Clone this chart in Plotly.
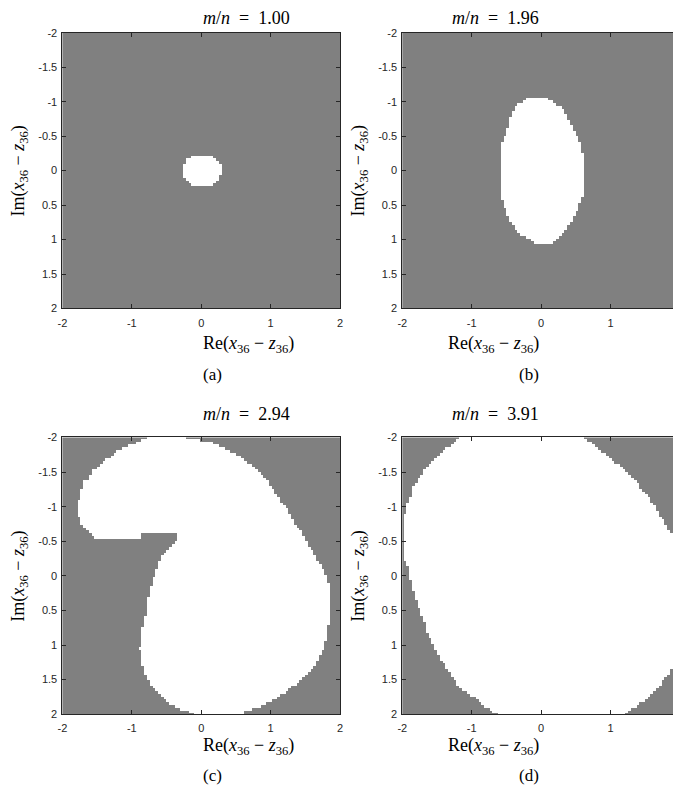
import numpy as np
import plotly.graph_objects as go

# ---------------- data ----------------
ratios = ["1.00", "1.96", "2.94", "3.91"]
captions = ["(a)", "(b)", "(c)", "(d)"]
x_ticks = [-2, -1, 0, 1, 2]
y_ticks = [-2, -1.5, -1, -0.5, 0, 0.5, 1, 1.5, 2]
x_tick_text = ["-2", "-1", "0", "1", "2"]
y_tick_text = ["-2", "-1.5", "-1", "-0.5", "0", "0.5", "1", "1.5", "2"]

# grid of the sampled plane (cell centres)
grid_re = np.linspace(-2, 2, 101)
grid_im = np.linspace(-2, 2, 101)

# boundaries of the white (convergent) region
region_a_re = [-0.12, 0.17, 0.24, 0.29, 0.29, 0.24, 0.17, -0.13, -0.21, -0.27, -0.27, -0.21]
region_a_im = [-0.20, -0.20, -0.16, -0.11, 0.05, 0.13, 0.21, 0.21, 0.14, 0.08, -0.07, -0.16]

region_b_re = [-0.178, 0.101, 0.183, 0.255, 0.328, 0.376, 0.424, 0.472, 0.520, 0.569, 0.593, 0.617,
               0.617, 0.583, 0.545, 0.506, 0.448, 0.400, 0.342, 0.255, 0.159,
               -0.082, -0.178, -0.251, -0.323, -0.395, -0.443, -0.492, -0.525, -0.564, -0.598,
               -0.598, -0.564, -0.540, -0.492, -0.467, -0.443, -0.395, -0.323, -0.251]
region_b_im = [-1.05, -1.05, -0.993, -0.945, -0.874, -0.802, -0.706, -0.611, -0.492, -0.396, -0.301, -0.205,
               0.320, 0.415, 0.511, 0.606, 0.726, 0.797, 0.893, 0.964, 1.05,
               1.05, 0.988, 0.940, 0.893, 0.797, 0.726, 0.630, 0.535, 0.415, 0.296,
               -0.325, -0.396, -0.468, -0.563, -0.683, -0.778, -0.874, -0.969, -1.017]

region_c_re = [-0.79, -0.20, -0.20, 0.091, 0.234, 0.330, 0.402, 0.474, 0.545, 0.617, 0.665, 0.737,
               0.809, 0.880, 0.952, 1.000, 1.048, 1.096, 1.144, 1.215, 1.263, 1.311, 1.359,
               1.431, 1.478, 1.526, 1.598, 1.646, 1.694, 1.742, 1.789,
               1.804, 1.837, 1.861, 1.852, 1.828, 1.789, 1.718, 1.670, 1.550, 1.431, 1.263,
               1.144, 0.976, 0.785, 0.617, 0.62,
               -0.08, -0.10, -0.234, -0.392, -0.512, -0.608, -0.679, -0.727, -0.766, -0.799,
               -0.847, -0.880, -0.847, -0.799, -0.775, -0.727, -0.679,
               -0.646, -0.617, -0.584, -0.560, -0.512, -0.464, -0.416, -0.368, -0.321, -0.344,
               -0.871, -0.871, -1.086, -1.086, -1.478,
               -1.565, -1.612, -1.684, -1.718, -1.746, -1.766, -1.766, -1.732, -1.708, -1.684,
               -1.636, -1.603, -1.565, -1.493, -1.445, -1.397, -1.325, -1.254, -1.191, -1.134,
               -1.038, -0.933, -0.789]
region_c_im = [-2.05, -2.05, -1.975, -1.95, -1.898, -1.850, -1.811, -1.778, -1.740, -1.692, -1.644, -1.596,
               -1.524, -1.452, -1.380, -1.309, -1.237, -1.165, -1.093, -1.022, -0.926, -0.830, -0.758,
               -0.663, -0.567, -0.471, -0.399, -0.304, -0.208, -0.136, -0.040,
               -0.012, 0.083, 0.275, 0.562, 0.801, 0.969, 1.160, 1.256, 1.399, 1.519, 1.639,
               1.720, 1.830, 1.902, 1.959, 2.05,
               2.05, 1.98, 1.950, 1.864, 1.806, 1.710, 1.615, 1.567, 1.509, 1.423,
               1.280, 1.040, 0.753, 0.562, 0.370, 0.179, 0.035,
               -0.089, -0.161, -0.243, -0.305, -0.353, -0.400, -0.448, -0.496, -0.529, -0.601,
               -0.601, -0.558, -0.558, -0.529, -0.529,
               -0.591, -0.639, -0.686, -0.734, -0.806, -0.902, -1.093, -1.213, -1.285, -1.356,
               -1.404, -1.476, -1.524, -1.572, -1.620, -1.668, -1.716, -1.764, -1.811, -1.850,
               -1.883, -1.917, -1.984]

region_d_re = [-1.167, 0.584, 0.656, 0.751, 0.799, 0.847, 0.919, 0.967, 1.038, 1.086, 1.134, 1.182,
               1.239, 1.278, 1.325, 1.373, 1.421, 1.469, 1.517, 1.565, 1.612, 1.660, 1.684,
               1.732, 1.780, 1.828, 1.876, 1.923, 1.947, 1.971, 2.05, 2.05,
               1.971, 1.923, 1.900, 1.852, 1.804, 1.756, 1.708, 1.660, 1.612, 1.541, 1.493,
               1.421, 1.349, 1.278, 1.182,
               -0.555, -0.651, -0.708, -0.770, -0.818, -0.866, -0.914, -1.010, -1.081, -1.129,
               -1.177, -1.225, -1.273, -1.321, -1.344, -1.392, -1.440, -1.474, -1.512, -1.560,
               -1.584, -1.617, -1.656, -1.679, -1.713, -1.751, -1.775, -1.809, -1.847, -1.871,
               -1.904, -1.933, -1.981, -1.981, -1.952, -1.919, -1.895, -1.856, -1.847, -1.809,
               -1.775, -1.727, -1.703, -1.656, -1.608, -1.560, -1.512, -1.464, -1.416, -1.321,
               -1.273, -1.215]
region_d_im = [-2.05, -2.05, -1.965, -1.917, -1.869, -1.821, -1.764, -1.725, -1.678, -1.630, -1.596, -1.548,
               -1.500, -1.452, -1.404, -1.356, -1.308, -1.237, -1.189, -1.117, -1.045, -0.998, -0.926,
               -0.854, -0.782, -0.686, -0.615, -0.519, -0.400, -0.280, -0.26, 1.0,
               1.050, 1.203, 1.299, 1.394, 1.466, 1.514, 1.586, 1.634, 1.682, 1.753, 1.801,
               1.849, 1.897, 1.944, 2.05,
               2.05, 1.983, 1.944, 1.911, 1.873, 1.835, 1.778, 1.730, 1.672, 1.634,
               1.586, 1.538, 1.466, 1.394, 1.346, 1.275, 1.203, 1.146, 1.083, 0.988,
               0.916, 0.844, 0.772, 0.677, 0.581, 0.510, 0.414, 0.318, 0.198, 0.079,
               -0.041, -0.185, -0.256, -0.806, -0.950, -1.046, -1.117, -1.189, -1.285, -1.333,
               -1.390, -1.452, -1.514, -1.572, -1.630, -1.678, -1.725, -1.773, -1.821, -1.869,
               -1.917, -1.965]

regions = [(region_a_re, region_a_im), (region_b_re, region_b_im),
           (region_c_re, region_c_im), (region_d_re, region_d_im)]


def rasterize(vx, vy):
    vx = np.asarray(vx, float)
    vy = np.asarray(vy, float)
    px, py = np.meshgrid(grid_re, grid_im)
    inside = np.zeros(px.shape, dtype=bool)
    j = len(vx) - 1
    for i in range(len(vx)):
        cross = (vy[i] > py) != (vy[j] > py)
        denom = vy[j] - vy[i]
        if denom == 0:
            denom = 1e-12
        xint = (vx[j] - vx[i]) * (py - vy[i]) / denom + vx[i]
        inside ^= cross & (px < xint)
        j = i
    return inside.astype(float)


# the page body adds an 8 px margin, so the figure is laid out in page pixels minus 8
OFF = 8
W, H = 681 - OFF, 800 - OFF
# plot-area boxes in page pixels (left, right, top, bottom)
boxes = [(58, 339, 27, 307), (402, 683, 27, 307), (58, 339, 438, 719), (402, 683, 438, 719)]
# vertical page positions of the x-axis label and caption per row
label_y = [344, 344, 752, 752]
caption_y = [374, 374, 781, 781]
title_y = [12, 12, 414, 414]


def px_x(v):
    return (v - OFF) / W


def px_y(v):
    return 1 - (v - OFF) / H


fig = go.Figure()
AXC = "#262626"
tick_font = dict(family="'Liberation Sans', Arial, sans-serif", size=11, color=AXC)
serif = "'Liberation Serif', 'Times New Roman', serif"

for k, ((vx, vy), (l, r, t, b)) in enumerate(zip(regions, boxes)):
    n = "" if k == 0 else str(k + 1)
    z = rasterize(vx, vy)
    fig.add_trace(go.Heatmap(
        x=grid_re, y=grid_im, z=z, zmin=0, zmax=1,
        colorscale=[[0, "#808080"], [1, "#ffffff"]], showscale=False,
        xaxis="x" + n, yaxis="y" + n, hoverinfo="skip"))
    common = dict(showgrid=False, zeroline=False, showline=True, mirror="ticks",
                  linecolor=AXC, linewidth=1, ticks="inside", ticklen=4,
                  tickcolor=AXC, tickwidth=1, tickfont=tick_font)
    x1 = min(px_x(r), 1.0)
    fig.layout["xaxis" + n] = dict(domain=[px_x(l), x1], range=[-2, 2 - (px_x(r) - x1) * W / 70.25],
                                   tickvals=x_ticks, ticktext=x_tick_text,
                                   anchor="y" + n, ticklabelstandoff=4, **common)
    fig.layout["yaxis" + n] = dict(domain=[px_y(b), px_y(t)], range=[2, -2],
                                   tickvals=y_ticks, ticktext=y_tick_text,
                                   anchor="x" + n, ticklabelstandoff=2, **common)
    cx = px_x((l + r) / 2)
    fig.add_annotation(text="<i>m</i>/<i>n</i>&nbsp;&nbsp;=&nbsp;&nbsp;" + ratios[k],
                       xref="paper", yref="paper",
                       x=cx, y=px_y(title_y[k]), showarrow=False, yanchor="middle",
                       font=dict(family=serif, size=18, color="black"))
    fig.add_annotation(text="Re(<i>x</i><sub>36</sub> − <i>z</i><sub>36</sub>)", xref="paper",
                       yref="paper", x=cx, y=px_y(label_y[k]), showarrow=False, yanchor="middle",
                       font=dict(family=serif, size=18, color="black"))
    fig.add_annotation(text=captions[k], xref="paper", yref="paper",
                       x=cx, y=px_y(caption_y[k]), showarrow=False, yanchor="middle",
                       font=dict(family=serif, size=17, color="black"))
    fig.add_annotation(text="Im(<i>x</i><sub>36</sub> − <i>z</i><sub>36</sub>)", xref="paper",
                       yref="paper", x=px_x(l - 43), y=px_y((t + b) / 2), showarrow=False,
                       textangle=-90, xanchor="center", yanchor="middle",
                       font=dict(family=serif, size=18, color="black"))

fig.update_layout(width=W, height=H, margin=dict(l=0, r=0, t=0, b=0),
                  paper_bgcolor="white", plot_bgcolor="white", showlegend=False)
fig.write_html("out.html")
